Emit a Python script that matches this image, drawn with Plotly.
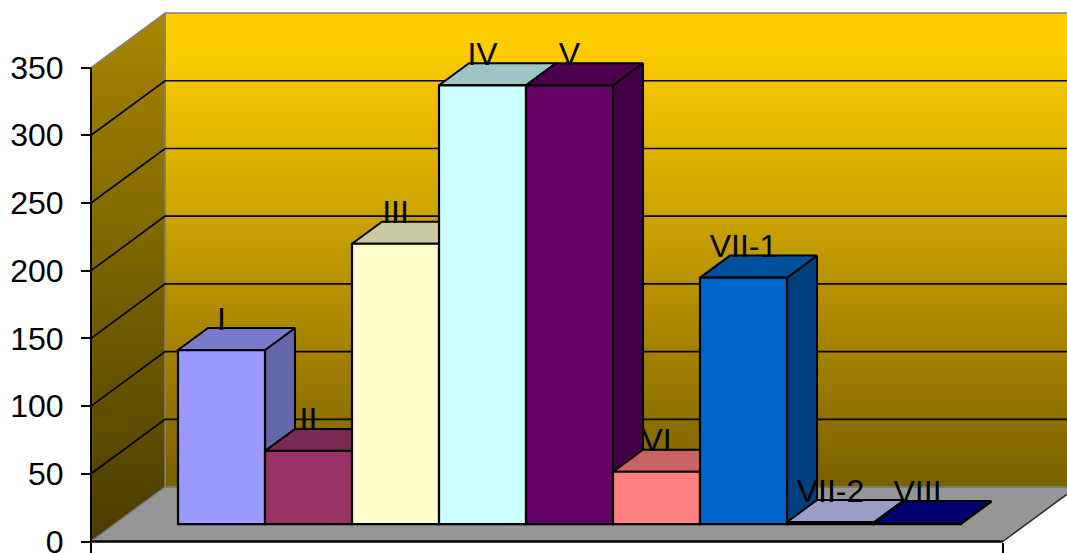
import plotly.graph_objects as go

# Data
categories = ["I", "II", "III", "IV", "V", "VI", "VII-1", "VII-2", "VIII"]
values = [128.5, 54, 207, 324, 324, 38.6, 182, 1.5, 0.7]
front_colors = ["#9999FF", "#993366", "#FFFFCC", "#CCFFFF", "#660066", "#FF8080", "#0066CC", "#A9A9DC", "#000080"]
top_colors = ["#7A7ACC", "#7A2950", "#C8C8A3", "#9EC4C4", "#4D004D", "#C86464", "#0050A0", "#9C9CC8", "#000070"]
side_colors = ["#6666AA", "#662244", "#AAAA88", "#88AAAA", "#440044", "#AA5555", "#004080", "#666688", "#000055"]
y_ticks = [0, 50, 100, 150, 200, 250, 300, 350]

# Geometry of the 3-D box, in axis units
FIG_H = 575
X_RANGE = [-2.546, 9.718]
Y_RANGE = [-24.74, 399.9]
WALL_L, WALL_R = -1.5, 8.98
WALL_DX, WALL_DY = 0.851, 40.25
BAR_BASE = 12.9
BAR_DX, BAR_DY = 0.345, 16.25
LABEL_GAP = 21
Y_MAX = 350
FONT = "Liberation Sans"
idx = list(range(len(categories)))


def poly(xs, ys, color=None, line="black", lw=2, axes="", **kw):
    d = dict(x=xs, y=ys, mode="lines", hoverinfo="skip", showlegend=False,
             line=dict(color=line, width=lw), xaxis="x" + axes, yaxis="y" + axes)
    if color:
        d.update(fill="toself", fillcolor=color)
    d.update(kw)
    return go.Scatter(**d)


fig = go.Figure()

# Floor
fig.add_trace(poly([WALL_L, WALL_L + WALL_DX, WALL_R + WALL_DX, WALL_R, WALL_L],
                   [0, WALL_DY, WALL_DY, 0, 0], "#969696", "#505050", 1))
# Back wall
fig.add_trace(poly([WALL_L + WALL_DX, WALL_R + WALL_DX, WALL_R + WALL_DX, WALL_L + WALL_DX, WALL_L + WALL_DX],
                   [WALL_DY, WALL_DY, WALL_DY + Y_MAX, WALL_DY + Y_MAX, WALL_DY],
                   None, "#808080", 1.5, fill="toself",
                   fillgradient=dict(type="vertical", start=WALL_DY, stop=WALL_DY + Y_MAX,
                                     colorscale=[[0, "#7A6000"], [0.93, "#FFCC00"], [1, "#FFCC00"]])))
# Left wall
fig.add_trace(poly([WALL_L, WALL_L + WALL_DX, WALL_L + WALL_DX, WALL_L, WALL_L],
                   [0, WALL_DY, WALL_DY + Y_MAX, Y_MAX, 0],
                   None, "#808080", 1.5, fill="toself",
                   fillgradient=dict(type="vertical", start=0, stop=WALL_DY + Y_MAX,
                                     colorscale=[[0, "#4A3C00"], [1, "#A88600"]])))
# Gridlines on walls
for v in y_ticks[1:-1]:
    fig.add_trace(poly([WALL_L, WALL_L + WALL_DX, WALL_R + WALL_DX],
                       [v, v + WALL_DY, v + WALL_DY], None, "black", 1.7))
# Axis lines
fig.add_trace(poly([WALL_L, WALL_L], [0, Y_MAX], None, "black", 2))
fig.add_trace(poly([WALL_L, WALL_R], [0, 0], None, "black", 2.5))
fig.add_trace(poly([WALL_R, WALL_R + WALL_DX], [0, WALL_DY], None, "#303030", 1.5))

# Bar sides and tops, painted left to right
for i, v in zip(idx, values):
    l, r = i - 0.5, i + 0.5
    t, b = BAR_BASE + v, BAR_BASE
    fig.add_trace(poly([r, r + BAR_DX, r + BAR_DX, r, r],
                       [b, b + BAR_DY, t + BAR_DY, t, b], side_colors[i], axes="2"))
    fig.add_trace(poly([l, l + BAR_DX, r + BAR_DX, r, l],
                       [t, t + BAR_DY, t + BAR_DY, t, t], top_colors[i], axes="2"))

# Bar fronts
fig.add_trace(go.Bar(x=idx, y=values, base=BAR_BASE, width=1,
                     marker=dict(color=front_colors, line=dict(color="black", width=2.2)),
                     hoverinfo="skip", showlegend=False, xaxis="x3", yaxis="y3"))
# Data labels
fig.add_trace(go.Scatter(x=idx, y=[BAR_BASE + v + LABEL_GAP for v in values], text=categories,
                         mode="text", textposition="middle center",
                         textfont=dict(family=FONT, size=32, color="black"),
                         hoverinfo="skip", showlegend=False, xaxis="x3", yaxis="y3"))

hidden = dict(visible=False, fixedrange=True)
fig.update_layout(
    width=1067, height=FIG_H, margin=dict(l=0, r=0, t=0, b=0),
    paper_bgcolor="white", plot_bgcolor="white", showlegend=False, barmode="overlay",
    font=dict(family=FONT, color="black"),
    xaxis=dict(range=X_RANGE, domain=[0, 1], anchor="free", position=(FIG_H - 541.5) / FIG_H,
               tickmode="array", tickvals=[WALL_L, WALL_R], showticklabels=False,
               ticks="outside", ticklen=12, tickwidth=2, tickcolor="black",
               showgrid=False, zeroline=False, showline=False, fixedrange=True),
    yaxis=dict(range=Y_RANGE, domain=[0, 1], anchor="free", position=91 / 1067, side="left",
               tickmode="array", tickvals=y_ticks, ticks="outside", ticklen=10, tickwidth=2,
               tickcolor="black", tickfont=dict(family=FONT, size=32, color="black"),
               ticklabelstandoff=11, showgrid=False, zeroline=False,
               showline=False, fixedrange=True),
    xaxis2=dict(range=X_RANGE, overlaying="x", anchor="y2", **hidden),
    yaxis2=dict(range=Y_RANGE, overlaying="y", anchor="x2", **hidden),
    xaxis3=dict(range=X_RANGE, overlaying="x", anchor="y3", **hidden),
    yaxis3=dict(range=Y_RANGE, overlaying="y", anchor="x3", **hidden),
)

fig.write_html("out.html", config={"displayModeBar": False},
               post_script="document.body.style.margin='0';document.body.style.overflow='hidden';")
